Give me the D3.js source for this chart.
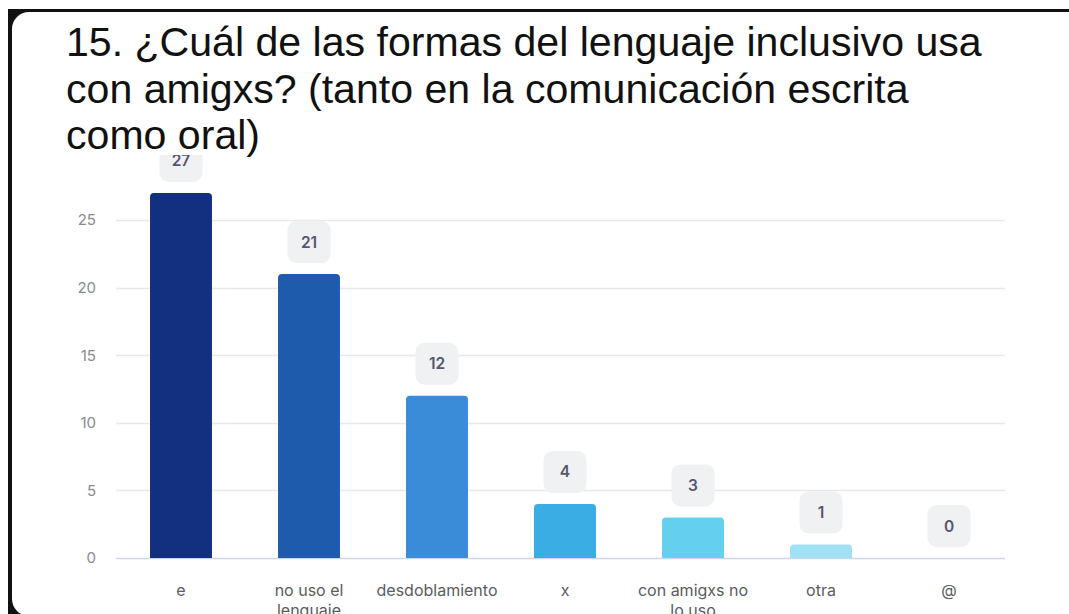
<!DOCTYPE html>
<html><head><meta charset="utf-8">
<script src="https://cdn.jsdelivr.net/npm/d3@7"></script>
<style>
html,body{margin:0;padding:0;background:#fff;overflow:hidden;}
svg{display:block;}
</style></head>
<body>
<svg id="c" width="1069" height="614"></svg>
<script>
const titleLines = ["15. ¿Cuál de las formas del lenguaje inclusivo usa", "con amigxs? (tanto en la comunicación escrita", "como oral)"];
const categories = ["e", "no uso el lenguaje", "desdoblamiento", "x", "con amigxs no lo uso", "otra", "@"];
const categoryLines = [["e"], ["no uso el", "lenguaje"], ["desdoblamiento"], ["x"], ["con amigxs no", "lo uso"], ["otra"], ["@"]];
const values = [27, 21, 12, 4, 3, 1, 0];
const colors = ["#132f80", "#1f5bad", "#3a8bd8", "#3aade5", "#64cfef", "#a0e1f3", "#c9eef8"];
const yTicks = [0, 5, 10, 15, 20, 25];

const svg = d3.select("#c");
// frame
svg.append("rect").attr("x", 8).attr("y", 9).attr("width", 1100).attr("height", 700).attr("fill", "#111");
svg.append("rect").attr("x", 12).attr("y", 12).attr("width", 1100).attr("height", 604).attr("rx", 17).attr("fill", "#fff");

const defs = svg.append("defs");
defs.append("clipPath").attr("id", "cp").append("rect").attr("x", 12).attr("y", 155).attr("width", 1060).attr("height", 460);

const x = d3.scaleBand().domain(categories).range([117, 1013]).paddingInner(0.516).paddingOuter(0.258);
const y = d3.scaleLinear().domain([0, 25]).range([558, 220]);

const g = svg.append("g").attr("clip-path", "url(#cp)");

// grid
g.append("g").selectAll("line").data(yTicks).join("line")
  .attr("x1", 116).attr("x2", 1005)
  .attr("y1", d => Math.round(y(d)) + 0.5).attr("y2", d => Math.round(y(d)) + 0.5)
  .attr("stroke", d => d === 0 ? "#cfd5f0" : "#e8e8ec").attr("stroke-width", 1.3);

// y axis labels
const yAxis = d3.axisLeft(y).tickValues(yTicks).tickSize(0).tickPadding(0);
const ya = g.append("g").attr("transform", "translate(96,0)").call(yAxis);
ya.select(".domain").remove();
ya.selectAll("text").attr("font-family", "Inter, 'Noto Sans', sans-serif").attr("font-size", 15).attr("fill", "#888b90");

// bars with rounded tops
const r = 4;
g.append("g").selectAll("path").data(values.map((v, i) => ({v, i}))).join("path")
  .filter(d => d.v > 0)
  .attr("fill", d => colors[d.i])
  .attr("d", d => {
    const x0 = x(categories[d.i]), w = x.bandwidth(), y0 = y(d.v), y1 = y(0);
    return `M${x0},${y1}V${y0 + r}Q${x0},${y0} ${x0 + r},${y0}H${x0 + w - r}Q${x0 + w},${y0} ${x0 + w},${y0 + r}V${y1}Z`;
  });

// value labels
const lab = g.append("g").selectAll("g").data(values.map((v, i) => ({v, i}))).join("g")
  .attr("transform", d => `translate(${x(categories[d.i]) + x.bandwidth() / 2},${y(d.v) - 11})`);
lab.append("rect").attr("x", -21.5).attr("y", -42).attr("width", 43).attr("height", 42).attr("rx", 9).attr("fill", "#f0f1f2");
lab.append("text").attr("y", -15.5).attr("text-anchor", "middle")
  .attr("font-family", "Inter, 'Noto Sans', sans-serif").attr("font-size", 15.5).attr("font-weight", 600)
  .attr("fill", "#555670").text(d => d.v);

// x labels
const xl = g.append("g").selectAll("text").data(categories).join("text")
  .attr("x", d => x(d) + x.bandwidth() / 2).attr("y", 596).attr("text-anchor", "middle")
  .attr("font-family", "Inter, 'Noto Sans', sans-serif").attr("font-size", 16).attr("fill", "#5a5c60");
xl.selectAll("tspan").data((d, i) => categoryLines[i]).join("tspan")
  .attr("x", function() { return d3.select(this.parentNode).attr("x"); })
  .attr("dy", (d, j) => j === 0 ? 0 : 20).text(d => d);

// title
const tt = svg.append("g").selectAll("text").data(titleLines).join("text")
  .attr("x", 66).attr("y", (d, i) => 56 + i * 46.5)
  .attr("font-family", "'Liberation Sans', Arial, sans-serif").attr("font-size", 37).attr("fill", "#111")
  .text(d => d);
const w0 = tt.node().getComputedTextLength();
tt.attr("font-size", 37 * 916 / w0);
</script>
</body></html>
